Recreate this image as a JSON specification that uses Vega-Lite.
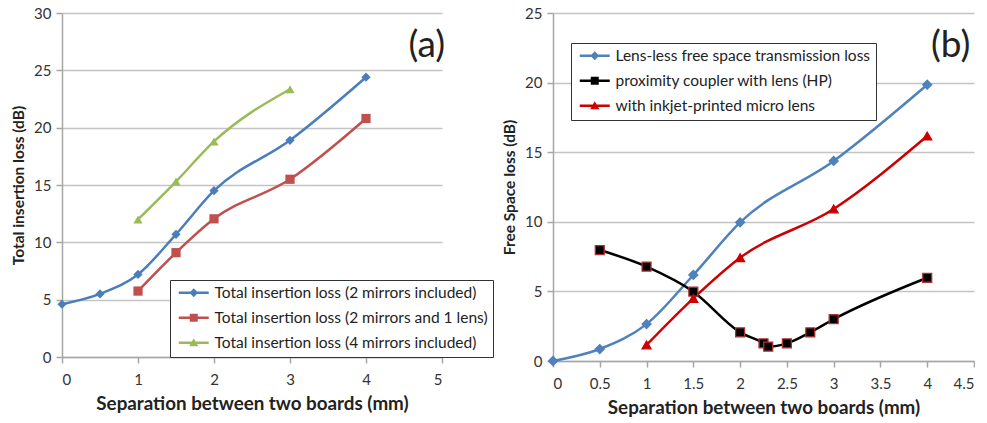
{
  "$schema": "https://vega.github.io/schema/vega-lite/v6.json",
  "background": "white",
  "padding": {"left": 11, "top": 6, "right": 0, "bottom": 3},
  "spacing": 8,
  "config": {
    "view": {"stroke": null},
    "font": "Lato",
    "axis": {
      "labelFont": "Lato", "labelFontSize": 15, "labelColor": "#333",
      "titleFont": "Lato", "titleFontSize": 15.5, "titleFontWeight": "bold", "titleColor": "#222",
      "domainColor": "#a6a6a6", "domainWidth": 1.5, "tickColor": "#a6a6a6", "tickWidth": 1.5, "tickSize": 6,
      "gridColor": "#c4c4c4", "gridWidth": 1.5, "labelPadding": 5, "titlePadding": 7
    },
    "axisX": {"labelPadding": 9, "titleFontSize": 18.8, "titlePadding": 7},
    "legend": {
      "labelFont": "Lato", "labelFontSize": 15.5, "labelColor": "#222", "labelLimit": 400,
      "strokeColor": "#333", "fillColor": "white", "padding": 5, "rowPadding": 8,
      "symbolSize": 64, "labelOffset": 24, "symbolStrokeWidth": 0
    }
  },
  "resolve": {"scale": {"color": "independent", "shape": "independent", "stroke": "independent"}},
  "hconcat": [
    {
      "width": 380, "height": 344,
      "data": {"values": [
        {"s": "Total insertion loss (2 mirrors included)", "x": 0, "y": 4.6},
        {"s": "Total insertion loss (2 mirrors included)", "x": 0.5, "y": 5.5},
        {"s": "Total insertion loss (2 mirrors included)", "x": 1, "y": 7.2},
        {"s": "Total insertion loss (2 mirrors included)", "x": 1.5, "y": 10.7},
        {"s": "Total insertion loss (2 mirrors included)", "x": 2, "y": 14.5},
        {"s": "Total insertion loss (2 mirrors included)", "x": 3, "y": 18.9},
        {"s": "Total insertion loss (2 mirrors included)", "x": 4, "y": 24.4},
        {"s": "Total insertion loss (2 mirrors and 1 lens)", "x": 1, "y": 5.75},
        {"s": "Total insertion loss (2 mirrors and 1 lens)", "x": 1.5, "y": 9.1},
        {"s": "Total insertion loss (2 mirrors and 1 lens)", "x": 2, "y": 12.05},
        {"s": "Total insertion loss (2 mirrors and 1 lens)", "x": 3, "y": 15.5},
        {"s": "Total insertion loss (2 mirrors and 1 lens)", "x": 4, "y": 20.8},
        {"s": "Total insertion loss (4 mirrors included)", "x": 1, "y": 12.0},
        {"s": "Total insertion loss (4 mirrors included)", "x": 1.5, "y": 15.3},
        {"s": "Total insertion loss (4 mirrors included)", "x": 2, "y": 18.8},
        {"s": "Total insertion loss (4 mirrors included)", "x": 3, "y": 23.35}
      ]},
      "encoding": {
        "x": {"field": "x", "type": "quantitative", "scale": {"domain": [0, 5], "nice": false},
              "axis": {"values": [0, 1, 2, 3, 4, 5], "format": "~g", "title": "Separation between two boards (mm)", "grid": false}},
        "y": {"field": "y", "type": "quantitative", "scale": {"domain": [0, 30], "nice": false},
              "axis": {"values": [0, 5, 10, 15, 20, 25, 30], "title": "Total insertion loss (dB)", "grid": true}}
      },
      "layer": [
        {"mark": {"type": "line", "interpolate": "monotone", "strokeWidth": 2.5},
         "encoding": {"color": {"field": "s", "type": "nominal", "legend": null,
           "scale": {"domain": ["Total insertion loss (2 mirrors included)", "Total insertion loss (2 mirrors and 1 lens)", "Total insertion loss (4 mirrors included)"],
                     "range": ["#4a7ebb", "#c0504d", "#9bbb59"]}}}},
        {"mark": {"type": "point", "filled": true, "opacity": 1, "size": 85},
         "encoding": {
           "color": {"field": "s", "type": "nominal", "legend": null,
             "scale": {"domain": ["Total insertion loss (2 mirrors included)", "Total insertion loss (2 mirrors and 1 lens)", "Total insertion loss (4 mirrors included)"],
                       "range": ["#4a7ebb", "#c0504d", "#9bbb59"]}},
           "shape": {"field": "s", "type": "nominal", "legend": null,
             "scale": {"domain": ["Total insertion loss (2 mirrors included)", "Total insertion loss (2 mirrors and 1 lens)", "Total insertion loss (4 mirrors included)"],
                       "range": ["diamond", "square", "triangle-up"]}}}},
        {"transform": [{"filter": "datum.x < 0"}],
         "mark": {"type": "point", "filled": true, "opacity": 1},
         "encoding": {
           "color": {"field": "s", "type": "nominal",
             "legend": {"orient": "none", "legendX": 108, "legendY": 267, "title": null},
             "scale": {"domain": ["Total insertion loss (2 mirrors included)", "Total insertion loss (2 mirrors and 1 lens)", "Total insertion loss (4 mirrors included)"],
                       "range": ["#4a7ebb", "#c0504d", "#9bbb59"]}},
           "shape": {"field": "s", "type": "nominal",
             "legend": {"orient": "none", "legendX": 108, "legendY": 267, "title": null},
             "scale": {"domain": ["Total insertion loss (2 mirrors included)", "Total insertion loss (2 mirrors and 1 lens)", "Total insertion loss (4 mirrors included)"],
                       "range": ["M-1,-0.3H6.5V0.3H-1Z M2.75,-1.1L3.85,0L2.75,1.1L1.65,0Z", "M-1,-0.3H6.5V0.3H-1Z M1.75,-1H3.75V1H1.75Z", "M-1,-0.3H6.5V0.3H-1Z M2.75,-1.1L3.9,0.9L1.6,0.9Z"]}}}},
        {"data": {"values": [{"x": 4.8, "y": 27.1, "t": "(a)"}]},
         "mark": {"type": "text", "fontSize": 37, "font": "Lato", "color": "#222", "align": "center", "baseline": "middle"},
         "encoding": {"text": {"field": "t"}}}
      ],
      "resolve": {"scale": {"color": "independent", "shape": "independent"}}
    },
    {
      "width": 421, "height": 348,
      "data": {"values": [
        {"s": "Lens-less free space transmission loss", "x": 0, "y": 0},
        {"s": "Lens-less free space transmission loss", "x": 0.5, "y": 0.86},
        {"s": "Lens-less free space transmission loss", "x": 1, "y": 2.65},
        {"s": "Lens-less free space transmission loss", "x": 1.5, "y": 6.18},
        {"s": "Lens-less free space transmission loss", "x": 2, "y": 9.96},
        {"s": "Lens-less free space transmission loss", "x": 3, "y": 14.37},
        {"s": "Lens-less free space transmission loss", "x": 4, "y": 19.85},
        {"s": "proximity coupler with lens (HP)", "x": 0.5, "y": 7.97},
        {"s": "proximity coupler with lens (HP)", "x": 1, "y": 6.78},
        {"s": "proximity coupler with lens (HP)", "x": 1.5, "y": 4.98},
        {"s": "proximity coupler with lens (HP)", "x": 2, "y": 2.06},
        {"s": "proximity coupler with lens (HP)", "x": 2.25, "y": 1.27},
        {"s": "proximity coupler with lens (HP)", "x": 2.3, "y": 1.03},
        {"s": "proximity coupler with lens (HP)", "x": 2.5, "y": 1.27},
        {"s": "proximity coupler with lens (HP)", "x": 2.75, "y": 2.06},
        {"s": "proximity coupler with lens (HP)", "x": 3, "y": 3.0},
        {"s": "proximity coupler with lens (HP)", "x": 4, "y": 5.98},
        {"s": "with inkjet-printed micro lens", "x": 1, "y": 1.15},
        {"s": "with inkjet-printed micro lens", "x": 1.5, "y": 4.5},
        {"s": "with inkjet-printed micro lens", "x": 2, "y": 7.42},
        {"s": "with inkjet-printed micro lens", "x": 3, "y": 10.92},
        {"s": "with inkjet-printed micro lens", "x": 4, "y": 16.16}
      ]},
      "encoding": {
        "x": {"field": "x", "type": "quantitative", "scale": {"domain": [0, 4.5], "nice": false},
              "axis": {"values": [0, 0.5, 1, 1.5, 2, 2.5, 3, 3.5, 4, 4.5], "format": "~g", "title": "Separation between two boards (mm)", "grid": false}},
        "y": {"field": "y", "type": "quantitative", "scale": {"domain": [0, 25], "nice": false},
              "axis": {"values": [0, 5, 10, 15, 20, 25], "title": "Free Space loss (dB)", "grid": true}}
      },
      "layer": [
        {"mark": {"type": "line", "interpolate": "monotone", "strokeWidth": 2.5},
         "encoding": {"color": {"field": "s", "type": "nominal", "legend": null,
           "scale": {"domain": ["Lens-less free space transmission loss", "proximity coupler with lens (HP)", "with inkjet-printed micro lens"],
                     "range": ["#4f81bd", "#000000", "#cc0000"]}}}},
        {"mark": {"type": "point", "filled": true, "opacity": 1, "size": 80, "strokeWidth": 1.3},
         "encoding": {
           "color": {"field": "s", "type": "nominal", "legend": null,
             "scale": {"domain": ["Lens-less free space transmission loss", "proximity coupler with lens (HP)", "with inkjet-printed micro lens"],
                       "range": ["#4f81bd", "#000000", "#cc0000"]}},
           "stroke": {"field": "s", "type": "nominal", "legend": null,
             "scale": {"domain": ["Lens-less free space transmission loss", "proximity coupler with lens (HP)", "with inkjet-printed micro lens"],
                       "range": ["#4f81bd", "#b03030", "#cc0000"]}},
           "shape": {"field": "s", "type": "nominal", "legend": null,
             "scale": {"domain": ["Lens-less free space transmission loss", "proximity coupler with lens (HP)", "with inkjet-printed micro lens"],
                       "range": ["diamond", "square", "triangle-up"]}}}},
        {"transform": [{"filter": "datum.x < 0"}],
         "mark": {"type": "point", "filled": true, "opacity": 1},
         "encoding": {
           "color": {"field": "s", "type": "nominal",
             "legend": {"orient": "none", "legendX": 18, "legendY": 30, "title": null},
             "scale": {"domain": ["Lens-less free space transmission loss", "proximity coupler with lens (HP)", "with inkjet-printed micro lens"],
                       "range": ["#4f81bd", "#000000", "#cc0000"]}},
           "shape": {"field": "s", "type": "nominal",
             "legend": {"orient": "none", "legendX": 18, "legendY": 30, "title": null},
             "scale": {"domain": ["Lens-less free space transmission loss", "proximity coupler with lens (HP)", "with inkjet-printed micro lens"],
                       "range": ["M-1,-0.3H6.5V0.3H-1Z M2.75,-1.1L3.85,0L2.75,1.1L1.65,0Z", "M-1,-0.3H6.5V0.3H-1Z M1.75,-1H3.75V1H1.75Z", "M-1,-0.3H6.5V0.3H-1Z M2.75,-1.1L3.9,0.9L1.6,0.9Z"]}}}},
        {"data": {"values": [{"x": 4.25, "y": 22.6, "t": "(b)"}]},
         "mark": {"type": "text", "fontSize": 37, "font": "Lato", "color": "#222", "align": "center", "baseline": "middle"},
         "encoding": {"text": {"field": "t"}}}
      ],
      "resolve": {"scale": {"color": "independent", "shape": "independent", "stroke": "independent"}}
    }
  ]
}
